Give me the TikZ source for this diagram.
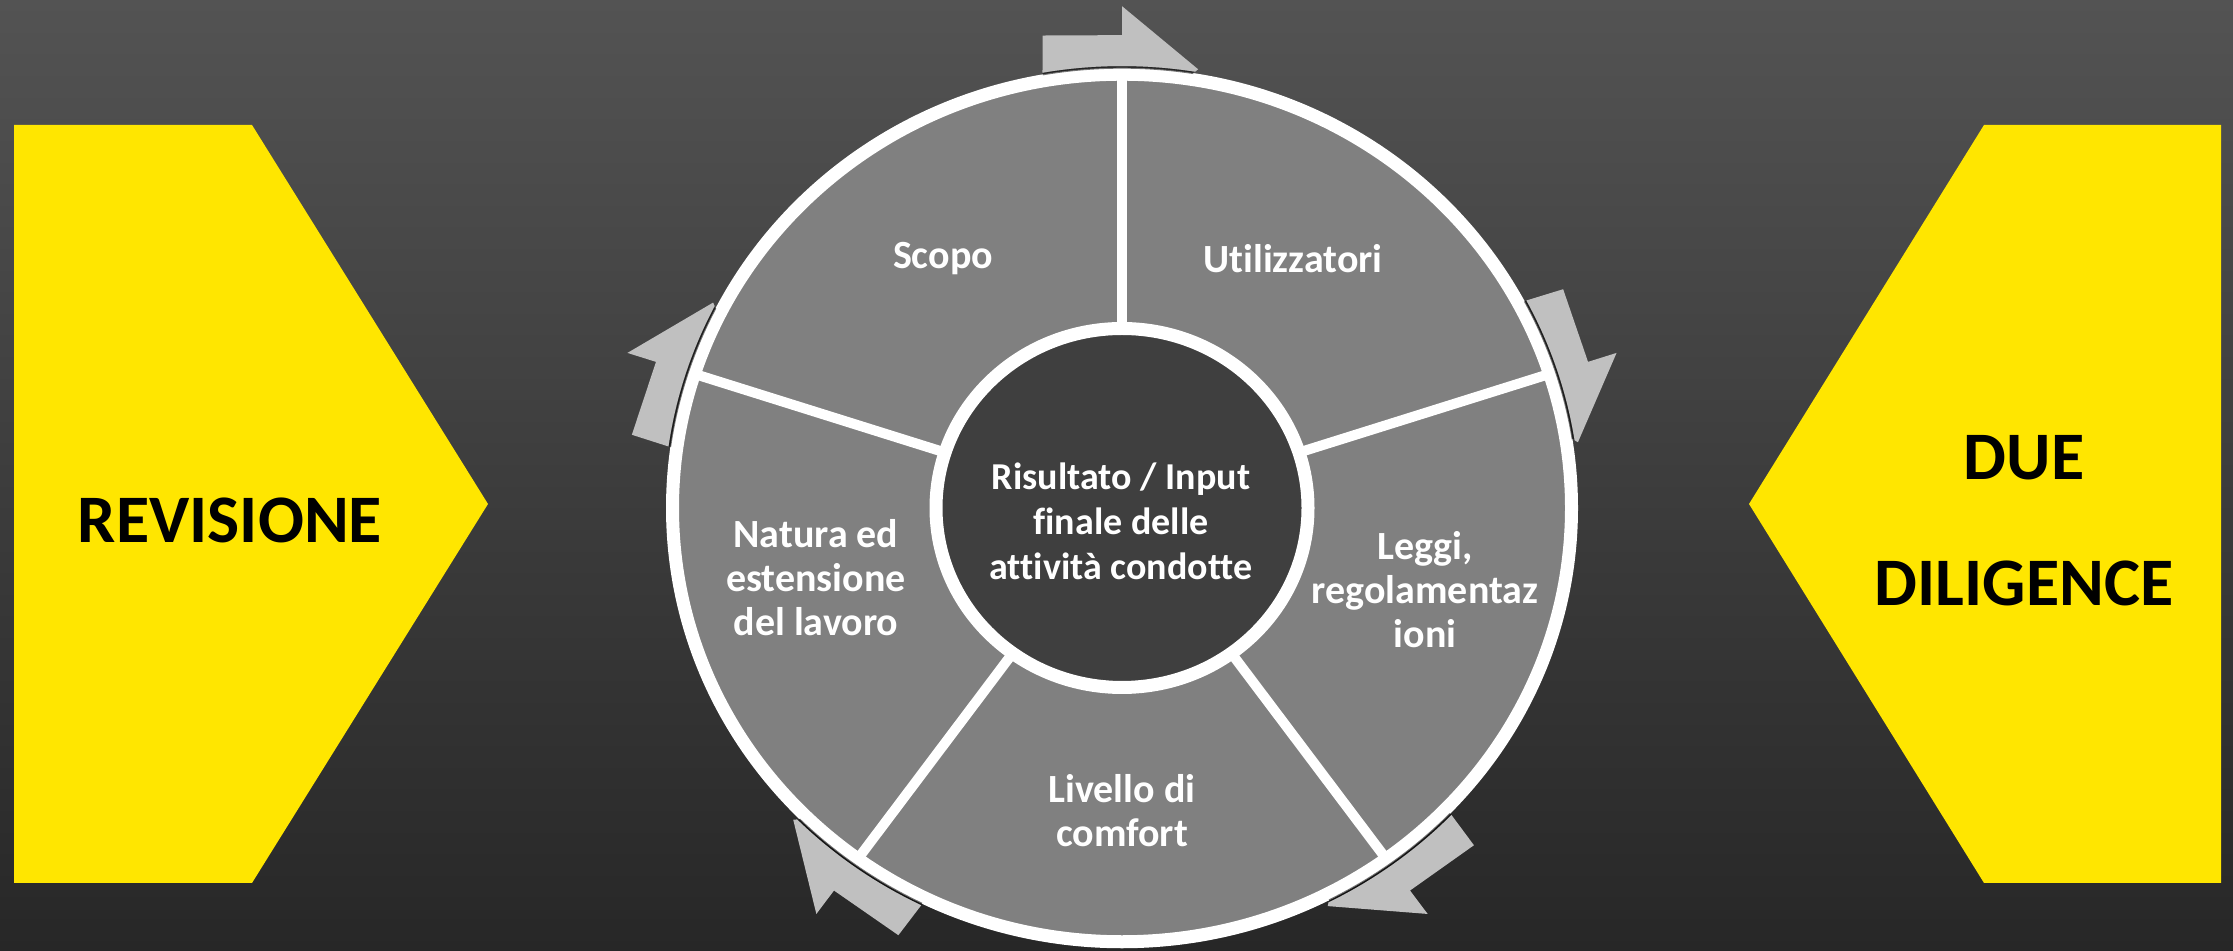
\documentclass[tikz,border=0pt]{standalone}
\usepackage{fontspec}
\setmainfont{Carlito}[Ligatures=NoCommon]
\definecolor{bgtop}{HTML}{535353}
\definecolor{bgbot}{HTML}{272727}
\definecolor{signyellow}{HTML}{FFE600}
\definecolor{segfill}{HTML}{808080}
\definecolor{hubfill}{HTML}{3F3F3F}
\definecolor{arrowfill}{HTML}{C0C0C0}
\tikzset{
  signlabel/.style={text=black, font=\bfseries\fontsize{34pt}{63pt}\selectfont, align=center, inner sep=0pt},
  seglabel/.style={text=white, font=\bfseries\fontsize{20pt}{22pt}\selectfont, align=center, inner sep=0pt},
  hublabel/.style={text=white, font=\bfseries\fontsize{19pt}{22.5pt}\selectfont, align=center, inner sep=0pt},
}
\begin{document}
\begin{tikzpicture}[x=0.5pt,y=0.5pt]
\useasboundingbox (0,0) rectangle (2233,951);
% backdrop
\shade[top color=bgtop,bottom color=bgbot] (0,0) rectangle (2233,951);

% yellow side signs
\fill[signyellow] (14,826) -- (252,826) -- (488,447) -- (252,68) -- (14,68) -- cycle;
\fill[signyellow] (2221,826) -- (1984,826) -- (1749,447) -- (1984,68) -- (2221,68) -- cycle;
\node[signlabel] (rev) at (230,431) {REVISIONE};
\node[signlabel] (dd) at (2024,430) {DUE\\DILIGENCE};

% wheel
\begin{scope}[shift={(1122,443)}, yscale=0.965]
  \fill[segfill] (0,0) circle[radius=449.5];
  \foreach \t in {90,18,-54,-126,162}
    \draw[white, line width=5pt] (\t:170) -- (\t:450);
  \draw[white, line width=6.5pt] (0,0) circle[radius=449.5];
  \draw[white, line width=6.5pt, fill=hubfill] (0,0) circle[radius=186];
  % block arrows riding on the rim, turning clockwise
  \foreach \t in {90,18,-54,-126,162}{
    \draw[black, opacity=0.55, line width=1.2pt]
      ([shift={(\t-9:456.5)}]0,0) arc[start angle=\t-9, end angle=\t+10, radius=456.5];
    \fill[arrowfill] (\t+10:458) -- (\t+9.2:496) -- (\t:490)
      -- (\t:520) -- (\t-9.5:461) -- (\t-9.2:458)
      arc[start angle=\t-9.2, end angle=\t+10, radius=458] -- cycle;
  }
\end{scope}

% labels
\node[hublabel] (hub) at (1121,430) {Risultato / Input\\finale delle\\attività condotte};
\node[seglabel] (scopo) at (943,692) {Scopo};
\node[seglabel] (util) at (1293,692) {Utilizzatori};
\node[seglabel] (leggi) at (1425,361) {Leggi,\\regolamentaz\\ioni};
\node[seglabel] (liv) at (1122,140) {Livello di\\comfort};
\node[seglabel] (nat) at (816,373) {Natura ed\\estensione\\del lavoro};
\end{tikzpicture}
\end{document}
